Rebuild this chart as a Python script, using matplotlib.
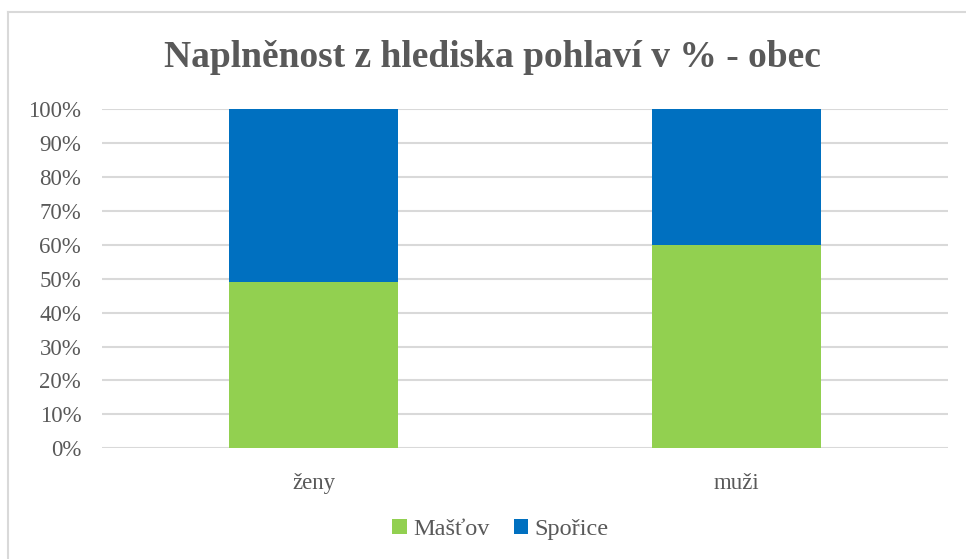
import matplotlib.pyplot as plt
from matplotlib.lines import Line2D
from matplotlib.ticker import PercentFormatter

# Data: share of each group (in %)
categories = ['ženy', 'muži']
mastov = [49, 60]
sporice = [51, 40]
series_names = ['Mašťov', 'Spořice']
colors = ['#92D050', '#0070C0']

plt.rcParams['font.family'] = ['Liberation Serif', 'DejaVu Serif']
text_color = '#595959'

fig = plt.figure(figsize=(9.66, 5.59), dpi=100)
ax = fig.add_axes([0.1056, 0.198, 0.8758, 0.607])

x = range(len(categories))
ax.bar(x, mastov, width=0.4, color=colors[0], label=series_names[0], zorder=3)
ax.bar(x, sporice, width=0.4, bottom=mastov, color=colors[1], label=series_names[1], zorder=3)

ax.set_xlim(-0.5, 1.5)
ax.set_ylim(0, 100)
ax.set_yticks(range(0, 101, 10))
ax.yaxis.set_major_formatter(PercentFormatter(decimals=0))
ax.set_xticks(list(x))
ax.set_xticklabels(categories)

ax.grid(axis='y', color='#D9D9D9', linewidth=1.5, zorder=0)
ax.tick_params(axis='y', length=0, pad=15, labelsize=16.5, labelcolor=text_color)
ax.tick_params(axis='x', length=0, pad=18, labelsize=16.5, labelcolor=text_color)
for s in ax.spines.values():
    s.set_visible(False)

fig.text(0.51, 0.898, 'Naplněnost z hlediska pohlaví v % - obec', ha='center', va='center',
         fontsize=27, fontweight='bold', color=text_color)

fig.legend(loc='center', bbox_to_anchor=(0.518, 0.053), ncol=2, frameon=False,
           fontsize=17.5, labelcolor=text_color, handlelength=0.6, handleheight=0.6,
           handletextpad=0.25, columnspacing=1.0)

# light chart frame (top and left edges only are visible)
fig.add_artist(Line2D([8 / 966, 1], [1 - 12 / 559, 1 - 12 / 559], transform=fig.transFigure,
                      color='#D9D9D9', linewidth=1.5))
fig.add_artist(Line2D([8 / 966, 8 / 966], [0, 1 - 12 / 559], transform=fig.transFigure,
                      color='#D9D9D9', linewidth=1.5))

fig.savefig('out.png', dpi=100)
